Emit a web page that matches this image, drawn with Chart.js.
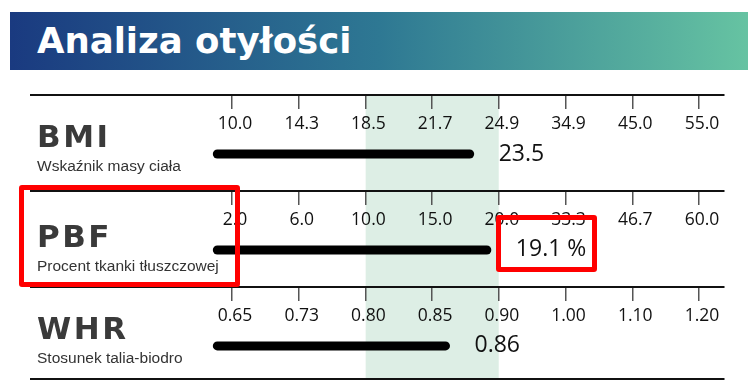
<!DOCTYPE html>
<html><head><meta charset="utf-8">
<script src="https://cdn.jsdelivr.net/npm/chart.js@4"></script>
<style>
html,body{margin:0;padding:0;background:#fff;}
#wrap{position:relative;width:755px;height:389px;overflow:hidden;}
#head{position:absolute;left:10px;top:12px;width:738px;height:58px;background:linear-gradient(90deg,#1a3a80 0%,#2e7893 50%,#66c3a2 100%);}
#head span{position:absolute;left:27px;top:11px;font:bold 35.5px 'DejaVu Sans',Arial,sans-serif;line-height:36px;color:#fff;white-space:nowrap;}
canvas{position:absolute;left:0;top:0;}
.mark{position:absolute;border:5px solid #ff0000;border-radius:3px;box-sizing:border-box;}
</style></head>
<body>
<div id="wrap">
  <div id="head"><span>Analiza otyłości</span></div>
  <canvas id="obesityChart" width="755" height="389"></canvas>
  <div class="mark" style="left:19px;top:185px;width:221px;height:102px"></div>
  <div class="mark" style="left:496px;top:215px;width:101px;height:57px"></div>
</div>
<script>
// rows and scale ticks (ticks are equally spaced, scale is piecewise)
const rowNames=['BMI','PBF','WHR'];
const rowDesc=['Wskaźnik masy ciała','Procent tkanki tłuszczowej','Stosunek talia-biodro'];
const bmiTicks=[10.0,14.3,18.5,21.7,24.9,34.9,45.0,55.0];
const pbfTicks=[2.0,6.0,10.0,15.0,20.0,33.3,46.7,60.0];
const whrTicks=[0.65,0.73,0.80,0.85,0.90,1.00,1.10,1.20];
const tickDecimals=[1,1,2];
const values=[23.5,19.1,0.86];
const valueUnits=['',' %',''];
const normalRange=[2,4]; // tick positions of the normal band

const allTicks=[bmiTicks,pbfTicks,whrTicks];
const X_MIN=-3.013, X_MAX=7.375, BAR_START=-0.22, Y_END=2.96, BAR_OFF=0.615;
const nameShift=[0,4,0];

function toIndex(v,t){
  for(let i=0;i<t.length-1;i++){ if(v<=t[i+1]) return i+(v-t[i])/(t[i+1]-t[i]); }
  return t.length-1;
}

function xAxis(row,labels,dec){
  return {type:'linear',axis:'x',position:{y:row},min:X_MIN,max:X_MAX,
    afterBuildTicks:s=>{ s.ticks=labels ? labels.map((_,i)=>({value:i})) : []; },
    grid:{drawOnChartArea:false,drawTicks:!!labels,tickLength:13,color:'#555',lineWidth:1.5,z:1},
    border:{color:'#111',width:2,z:1},
    ticks:{display:!!labels,z:1,padding:6,labelOffset:3,color:'#111',autoSkip:false,maxRotation:0,
      font:{family:'Open Sans',size:17.5},
      callback:v=>labels && labels[v]!==undefined ? labels[v].toFixed(dec) : ''}};
}

const scales={y:{type:'linear',display:false,min:0,max:Y_END,reverse:true}};
allTicks.forEach((t,i)=>{ scales['x'+i]=xAxis(i,t,tickDecimals[i]); });
scales.x3=xAxis(Y_END,null,0);

const datasets=[{
  type:'line',xAxisID:'x0',yAxisID:'y',order:5,
  data:[{x:normalRange[0],y:0},{x:normalRange[1],y:0}],
  fill:{value:Y_END},backgroundColor:'#ddeee5',borderWidth:0,pointRadius:0
}];
values.forEach((v,i)=>{
  datasets.push({type:'line',xAxisID:'x'+i,yAxisID:'y',order:1,
    data:[{x:BAR_START,y:i+BAR_OFF},{x:toIndex(v,allTicks[i]),y:i+BAR_OFF}],
    borderColor:'#000',borderWidth:9,borderCapStyle:'round',pointRadius:0,fill:false});
});

function spaced(ctx,t,x,y,sp){
  for(const ch of t){ ctx.fillText(ch,x,y); x+=ctx.measureText(ch).width+sp; }
}

const labelsPlugin={
  id:'rowLabels',
  afterDatasetsDraw(chart){
    const ctx=chart.ctx, ys=chart.scales.y;
    ctx.save();
    ctx.textAlign='left';
    rowNames.forEach((n,i)=>{
      const top=ys.getPixelForValue(i)+nameShift[i];
      ctx.fillStyle='#3a3a3a';
      ctx.textBaseline='alphabetic';
      ctx.font="bold 31px 'DejaVu Sans', Arial, sans-serif";
      spaced(ctx,n,37,top+52,2.5);
      ctx.font="15.5px 'Liberation Sans', Arial, sans-serif";
      ctx.fillStyle='#333';
      ctx.fillText(rowDesc[i],37,top+76);
      // value label right of the bar
      const pt=chart.getDatasetMeta(i+1).data[1];
      ctx.fillStyle='#111';
      ctx.textBaseline='middle';
      ctx.font="23px 'Open Sans', sans-serif";
      ctx.fillText(values[i].toFixed(tickDecimals[i])+valueUnits[i],pt.x+29,pt.y);
    });
    ctx.restore();
  }
};

new Chart(document.getElementById('obesityChart').getContext('2d'),{
  type:'line',
  data:{datasets},
  options:{responsive:false,animation:false,events:[],
    layout:{padding:{left:31,right:31,top:95,bottom:10}},
    plugins:{legend:{display:false},tooltip:{enabled:false}},
    scales},
  plugins:[labelsPlugin]
});
</script>
</body></html>
